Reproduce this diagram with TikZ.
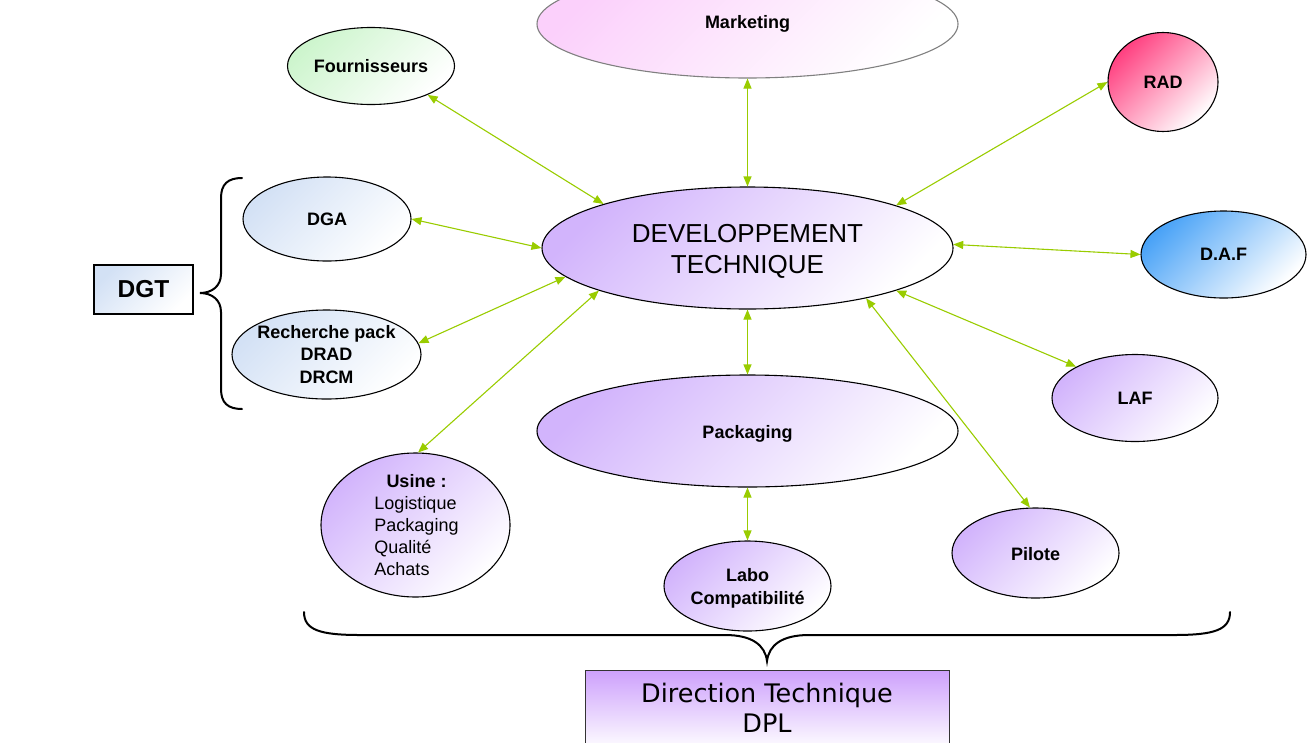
\documentclass[tikz,border=0pt]{standalone}
\usepackage{fontspec}
\setmainfont{Liberation Sans}
\newfontfamily\dejavu{DejaVu Sans}
\usetikzlibrary{shapes.geometric,arrows.meta}

\definecolor{lilac}{HTML}{D2B4FC}
\definecolor{pinkish}{HTML}{FBD0FB}
\definecolor{mint}{HTML}{CDF5CD}
\definecolor{rose}{HTML}{FF4080}
\definecolor{paleblue}{HTML}{D3E1F5}
\definecolor{sky}{HTML}{4AA3F7}
\definecolor{arrowgreen}{HTML}{99CC00}
\definecolor{dirtop}{HTML}{CDA0FC}

\tikzset{
  bubble/.style={ellipse, draw=black, line width=1.1pt, inner sep=0pt,
    top color=#1, bottom color=white, shading angle=45},
  lbl/.style={font=\fontsize{18pt}{22.5pt}\selectfont\bfseries, align=center, inner sep=0pt},
  biglbl/.style={font=\fontsize{26pt}{31pt}\selectfont, align=center, inner sep=0pt},
  link/.style={draw=arrowgreen, line width=1.1pt,
    {Triangle[length=10pt,width=8pt]}-{Triangle[length=10pt,width=8pt]}},
  bracestroke/.style={draw=black, line width=2pt, line cap=round},
}

\begin{document}
\begin{tikzpicture}[x=1pt,y=-1pt]
\useasboundingbox (0,0) rectangle (1313,742);

% central node and its partners
\node[bubble=lilac, minimum width=411pt, minimum height=122pt,
  label={[biglbl, yshift=-3.5pt]center:DEVELOPPEMENT\\TECHNIQUE}] (dev) at (747.5,248) {};

\node[bubble=pinkish, draw=black!50, minimum width=421pt, minimum height=108pt,
  label={[lbl, yshift=0.5pt]center:Marketing}] (mkt) at (747.5,24) {};
\node[bubble=mint, minimum width=167pt, minimum height=77pt,
  label={[lbl]center:Fournisseurs}] (four) at (371,66) {};
\node[bubble=rose, minimum width=110pt, minimum height=99pt,
  label={[lbl]center:RAD}] (rad) at (1163,82) {};
\node[bubble=paleblue, minimum width=168pt, minimum height=84pt,
  label={[lbl]center:DGA}] (dga) at (327,219) {};
\node[bubble=sky, minimum width=165pt, minimum height=87pt,
  label={[lbl]center:D.A.F}] (daf) at (1223.5,254.5) {};
\node[bubble=paleblue, minimum width=189pt, minimum height=89pt,
  label={[lbl]center:Recherche pack\\DRAD\\DRCM}] (rech) at (326.5,354.5) {};
\node[bubble=lilac, minimum width=166pt, minimum height=87pt,
  label={[lbl]center:LAF}] (laf) at (1135,398) {};
\node[bubble=lilac, minimum width=421pt, minimum height=112pt,
  label={[lbl, yshift=-2.5pt]center:Packaging}] (pack) at (747.5,431) {};
\node[bubble=lilac, minimum width=189pt, minimum height=144pt,
  label={[inner sep=0pt, font=\fontsize{18pt}{22pt}\selectfont, xshift=1pt, yshift=-2.5pt]center:%
    \begin{tabular}{@{}l@{}}\multicolumn{1}{c}{\bfseries Usine :}\\
    Logistique\\Packaging\\Qualité\\Achats\end{tabular}}] (usine) at (415.5,525) {};
\node[bubble=lilac, minimum width=167pt, minimum height=90pt,
  label={[lbl, yshift=-1pt]center:Pilote}] (pilote) at (1035.5,553) {};
\node[bubble=lilac, minimum width=167pt, minimum height=90pt,
  label={[lbl, yshift=-2.5pt]center:Labo\\Compatibilité}] (labo) at (747.5,586) {};

% group boxes
\node[draw=black, line width=1.4pt, inner sep=0pt, minimum width=99pt, minimum height=49pt,
  top color=paleblue, bottom color=white, shading angle=45,
  font=\fontsize{24.5pt}{28pt}\selectfont\bfseries] (dgt) at (143.5,289.5) {DGT};
\node[draw=black!80, line width=0.9pt, inner sep=0pt, minimum width=364pt, minimum height=80pt,
  top color=dirtop, bottom color=white,
  label={[biglbl, font=\dejavu\fontsize{25.5pt}{30pt}\selectfont, yshift=2pt]center:Direction Technique\\DPL}] (dir) at (767,710) {};

% connectors
\draw[link] (four.-27)    -- (dev.163.5);
\draw[link] (mkt.south)   -- (dev.north);
\draw[link] (rad.180)     -- (dev.16.5);
\draw[link] (dga.0)       -- (dev.180);
\draw[link] (daf.180)     -- (dev.1);
\draw[link] (rech.7.5)    -- (dev.189.3);
\draw[link] (usine.88)    -- (dev.196.8);
\draw[link] (pack.north)  -- (dev.south);
\draw[link] (laf.152.7)   -- (dev.-16.8);
\draw[link] (pilote.97)   -- (dev.-23.5);
\draw[link] (labo.north)  -- (pack.south);

% left brace grouping DGA and research
\draw[bracestroke] (242,178) .. controls (228,178) and (221,184) .. (221,198)
  -- (221,274) .. controls (221,286) and (212,293) .. (200,293)
  .. controls (212,293) and (221,300) .. (221,312)
  -- (221,389) .. controls (221,403) and (228,409) .. (242,409);

% bottom brace over the technical direction
\draw[bracestroke] (304,612) .. controls (304,630) and (320,635) .. (360,635)
  -- (725,635) .. controls (752,635) and (765,645) .. (767,661)
  .. controls (769,645) and (782,635) .. (809,635)
  -- (1174,635) .. controls (1214,635) and (1230,630) .. (1230,612);
\end{tikzpicture}
\end{document}
